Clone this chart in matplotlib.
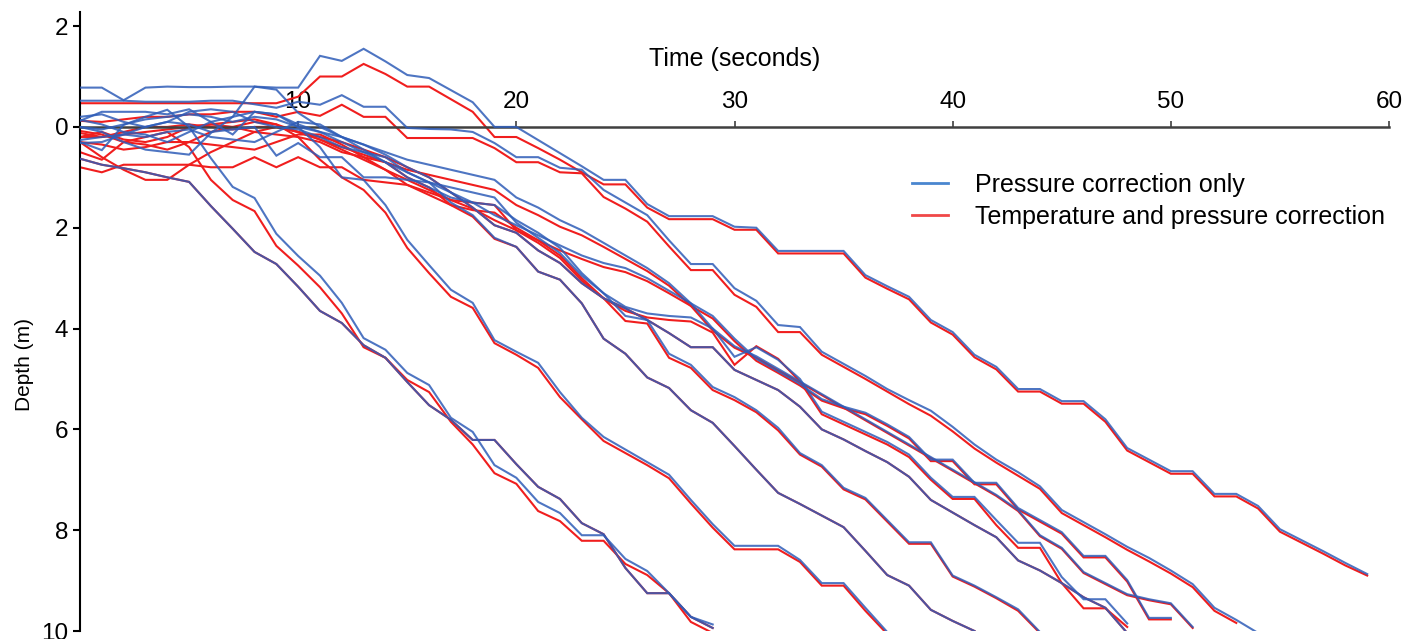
import numpy as np
import matplotlib
matplotlib.use("Agg")
import matplotlib.pyplot as plt
from matplotlib.ticker import FuncFormatter
from matplotlib.lines import Line2D

# ---- data: depth (m) sampled every second from t = 0 s ----
A_blue = [0.63,0.75,0.82,0.9,1.0,1.09,1.57,2.02,2.48,2.72,3.17,3.65,3.89,4.33,4.58,5.06,5.52,5.81,6.21,6.21,
          6.69,7.14,7.38,7.86,8.08,8.75,9.25,9.25,9.72,9.94]
A_red = [0.63,0.75,0.82,0.9,1.0,1.09,1.57,2.02,2.48,2.72,3.17,3.65,3.89,4.33,4.58,5.06,5.52,5.81,6.21,6.21,
         6.69,7.14,7.38,7.86,8.08,8.75,9.25,9.25,9.72,9.94]

B_blue = [0.3,0.46,-0.04,-0.2,-0.34,0.0,0.62,1.19,1.41,2.12,2.56,2.95,3.49,4.19,4.42,4.88,5.12,5.77,6.05,6.71,
          6.96,7.44,7.66,8.1,8.1,8.57,8.81,9.25,9.72,9.87]
B_red = [0.5,0.65,0.3,0.2,0.1,0.4,1.05,1.45,1.67,2.36,2.75,3.18,3.7,4.37,4.58,5.02,5.26,5.85,6.3,6.87,
         7.08,7.62,7.82,8.21,8.21,8.67,8.89,9.25,9.82,10.04]

C_blue = [-0.14,-0.05,0.1,0.15,0.3,0.1,-0.1,-0.2,-0.3,-0.25,0.0,0.4,1.0,1.05,1.55,2.24,2.74,3.23,3.49,4.23,
          4.46,4.68,5.26,5.77,6.15,6.4,6.65,6.9,7.4,7.88,8.31,8.31,8.31,8.59,9.05,9.05,9.54,10.02]
C_red = [0.08,0.15,0.3,0.35,0.45,0.3,0.1,0.0,-0.1,-0.05,0.2,0.65,1.0,1.25,1.7,2.4,2.9,3.37,3.59,4.29,
         4.52,4.78,5.36,5.8,6.23,6.47,6.71,6.97,7.47,7.95,8.38,8.38,8.38,8.63,9.1,9.1,9.6,10.06]

D_blue = [-0.78,-0.78,-0.53,-0.78,-0.8,-0.79,-0.79,-0.8,-0.8,-0.78,-0.78,
          -1.41,-1.31,-1.55,-1.3,-1.03,-0.97,-0.73,-0.49,0.0,0.0,
          0.26,0.52,0.78,1.05,1.05,1.53,1.77,1.77,1.77,1.98,
          2.0,2.46,2.46,2.46,2.46,2.94,3.16,3.37,3.83,4.07,
          4.52,4.76,5.2,5.2,5.44,5.44,5.8,6.37,6.6,6.83,
          6.83,7.28,7.28,7.52,7.98,8.2,8.42,8.65,8.87]
D_red = [-0.47,-0.47,-0.47,-0.47,-0.47,-0.47,-0.47,-0.47,-0.47,-0.47,-0.6,
         -1.0,-1.0,-1.25,-1.05,-0.8,-0.8,-0.55,-0.3,0.2,0.2,
         0.42,0.65,0.9,1.14,1.14,1.6,1.83,1.83,1.83,2.04,
         2.04,2.51,2.51,2.51,2.51,2.99,3.21,3.42,3.88,4.12,
         4.57,4.81,5.25,5.25,5.49,5.49,5.85,6.42,6.65,6.88,
         6.88,7.33,7.33,7.57,8.03,8.25,8.47,8.7,8.9]

E_blue = [-0.52,-0.52,-0.52,-0.5,-0.5,-0.5,-0.52,-0.52,-0.45,-0.38,-0.5,-0.44,-0.63,-0.4,-0.4,0.02,0.04,0.05,0.1,0.32,
          0.6,0.6,0.81,0.85,1.25,1.5,1.75,2.25,2.72,2.72,3.2,3.45,3.93,3.97,4.46,4.7,4.94,5.2,5.42,5.63,
          5.95,6.3,6.6,6.85,7.13,7.6,7.84,8.08,8.33,8.55,8.8,9.07,9.54,9.78,10.04,10.04]
E_red = [-0.12,-0.1,-0.15,-0.2,-0.2,-0.25,-0.25,-0.3,-0.3,-0.2,-0.3,-0.22,-0.44,-0.2,-0.2,0.22,0.22,0.22,0.22,0.42,
         0.7,0.7,0.9,0.92,1.39,1.62,1.88,2.37,2.84,2.84,3.33,3.57,4.07,4.07,4.52,4.76,5.0,5.25,5.5,5.73,
         6.04,6.38,6.66,6.92,7.18,7.66,7.9,8.14,8.39,8.62,8.86,9.13,9.6,9.84]

F_blue = [-0.2,-0.25,-0.1,0.0,-0.1,-0.3,-0.35,-0.3,-0.1,0.0,0.05,0.2,0.4,0.5,0.6,0.9,1.1,1.5,1.75,2.2,
          2.38,2.87,3.03,3.5,4.2,4.5,4.97,5.18,5.62,5.87,6.33,6.8,7.26,7.48,7.71,7.94,8.41,8.89,9.1,9.58,
          9.8,10.0]
F_red = [0.2,0.1,0.25,0.3,0.2,0.0,-0.05,0.0,0.1,0.15,0.2,0.3,0.5,0.6,0.7,1.0,1.2,1.55,1.78,2.22,
         2.38,2.87,3.03,3.5,4.2,4.5,4.97,5.18,5.62,5.87,6.33,6.8,7.26,7.48,7.71,7.94,8.41,8.89,9.1,9.58,
         9.8,10.0]

G_blue = [0.26,0.2,0.15,0.0,-0.1,-0.05,0.1,0.05,0.0,0.57,0.32,0.6,0.6,1.0,1.0,
          1.05,1.1,1.2,1.3,1.4,1.9,2.2,2.5,2.95,3.3,3.75,3.83,4.5,4.72,5.16,
          5.36,5.62,5.97,6.47,6.71,7.16,7.36,7.8,8.24,8.24,8.9,9.1,9.33,9.57,10.02]
G_red = [0.8,0.9,0.75,0.75,0.75,0.75,0.8,0.8,0.6,0.8,0.6,0.8,0.8,1.05,1.1,
         1.15,1.3,1.45,1.5,1.55,2.05,2.3,2.6,3.05,3.4,3.85,3.9,4.58,4.78,5.22,
         5.42,5.66,6.02,6.5,6.74,7.19,7.39,7.83,8.27,8.27,8.92,9.12,9.35,9.6,10.04]

H1_blue = [0.32,0.3,0.15,0.2,0.1,0.05,0.2,0.25,0.3,0.1,-0.1,-0.05,0.2,0.45,0.7,
           1.0,1.2,1.4,1.5,1.55,1.85,2.1,2.4,2.9,3.3,3.57,3.7,3.75,3.78,4.0,
           4.56,4.37,4.62,5.0,5.65,5.85,6.05,6.25,6.5,6.96,7.34,7.34,7.8,8.25,8.25,
           8.93,9.37,9.37,9.85]
H1_red = [0.3,0.35,0.45,0.4,0.3,0.3,0.35,0.4,0.45,0.3,0.15,0.15,0.35,0.6,0.85,
          1.15,1.35,1.55,1.65,1.7,2.0,2.25,2.55,3.0,3.4,3.65,3.78,3.83,3.86,4.08,
          4.72,4.35,4.6,5.05,5.7,5.9,6.1,6.3,6.55,7.0,7.38,7.38,7.9,8.35,8.35,
          9.05,9.55,9.55,9.92]

H2_blue = [0.0,0.05,-0.05,-0.15,-0.2,-0.25,-0.2,-0.1,-0.2,-0.15,0.0,0.1,0.2,0.35,0.55,
           0.8,1.0,1.3,1.6,1.95,2.1,2.45,2.7,3.1,3.4,3.6,3.83,4.09,4.37,4.37,
           4.82,5.02,5.22,5.55,6.0,6.2,6.43,6.65,6.94,7.4,7.65,7.9,8.14,8.6,8.8,
           9.05,9.33,9.54,10.04]
H2_red = [0.12,0.2,0.1,0.0,0.0,-0.05,0.0,0.05,0.0,0.0,0.1,0.2,0.3,0.45,0.6,
          0.8,1.0,1.3,1.6,1.95,2.1,2.45,2.7,3.1,3.4,3.6,3.83,4.09,4.37,4.37,
          4.82,5.02,5.22,5.55,6.0,6.2,6.43,6.65,6.94,7.4,7.65,7.9,8.14,8.6,8.8,
          9.05,9.33,9.54,10.04]

I_blue = [-0.12,-0.3,-0.3,-0.3,-0.25,-0.35,-0.1,0.15,-0.3,-0.25,-0.05,0.1,0.3,0.5,0.7,
          0.9,1.1,1.3,1.5,1.75,1.95,2.15,2.35,2.55,2.7,2.8,3.0,3.25,3.5,3.75,
          4.2,4.6,4.85,5.1,5.4,5.55,5.67,5.9,6.15,6.6,6.6,7.06,7.06,7.56,7.8,
          8.04,8.51,8.51,8.99,9.74,9.74]
I_red = [0.3,0.6,0.85,1.05,1.05,0.75,0.5,0.3,0.1,0.0,0.1,0.25,0.45,0.65,0.85,
         1.05,1.25,1.45,1.62,1.85,2.05,2.25,2.45,2.62,2.78,2.88,3.06,3.3,3.55,3.8,
         4.25,4.64,4.88,5.13,5.43,5.58,5.7,5.93,6.18,6.63,6.63,7.09,7.09,7.59,7.83,
         8.07,8.54,8.54,9.02,9.77,9.77]

J_blue = [0.0,0.1,0.3,0.45,0.5,0.55,0.12,-0.2,-0.8,-0.74,-0.28,0.0,0.2,0.35,0.5,
          0.65,0.75,0.85,0.95,1.05,1.4,1.6,1.85,2.05,2.3,2.55,2.8,3.1,3.5,4.0,
          4.35,4.55,4.8,5.05,5.3,5.55,5.8,6.05,6.3,6.55,6.8,7.05,7.3,7.6,8.1,
          8.35,8.83,9.05,9.27,9.37,9.45,9.92]
J_red = [0.2,0.2,0.15,0.1,0.05,0.0,-0.05,-0.1,-0.15,-0.05,0.1,0.25,0.4,0.55,0.7,
         0.85,0.95,1.05,1.15,1.25,1.55,1.75,1.98,2.15,2.38,2.62,2.86,3.15,3.55,4.04,
         4.38,4.58,4.83,5.07,5.32,5.57,5.82,6.07,6.32,6.57,6.82,7.07,7.32,7.62,8.12,
         8.37,8.85,9.07,9.29,9.39,9.47,9.94]

blue_series = [A_blue, B_blue, C_blue, D_blue, E_blue, F_blue, G_blue, H1_blue, H2_blue, I_blue, J_blue]
red_series = [A_red, B_red, C_red, D_red, E_red, F_red, G_red, H1_red, H2_red, I_red, J_red]

label_blue = "Pressure correction only"
label_red = "Temperature and pressure correction"
x_ticks = [10, 20, 30, 40, 50, 60]
y_ticks = [-2, 0, 2, 4, 6, 8, 10]

# ---- drawing ----
plt.rcParams['font.family'] = ['Liberation Sans', 'DejaVu Sans']
fig = plt.figure(figsize=(14.21, 6.39), dpi=100)
ax = fig.add_axes([80/1421, 1-631/639, (1389-80)/1421, (631-12)/639])

RED = '#F01E1E'
BLUE = '#2F5DB8'
for s in red_series:
    ax.plot(np.arange(len(s)), s, color=RED, lw=1.5, solid_joinstyle='miter', zorder=2)
for s in blue_series:
    ax.plot(np.arange(len(s)), s, color=BLUE, lw=1.5, alpha=0.85, solid_joinstyle='miter', zorder=3)

ax.set_xlim(0, 60)
ax.set_ylim(10, -2.28)

for side in ['right', 'bottom']:
    ax.spines[side].set_visible(False)
ax.spines['top'].set_position(('data', 0))
ax.spines['top'].set_color('#404040')
ax.spines['top'].set_linewidth(1.8)
ax.spines['left'].set_color('black')
ax.spines['left'].set_linewidth(1.5)

ax.xaxis.set_ticks_position('top')
ax.set_xticks(x_ticks)
ax.set_xticklabels([str(v) for v in x_ticks])
ax.tick_params(axis='x', direction='out', length=4, width=1.2, color='#404040',
               labelsize=17.5, pad=6)
ax.set_yticks(y_ticks)
ax.yaxis.set_major_formatter(FuncFormatter(lambda v, p: f"{abs(v):g}"))
ax.tick_params(axis='y', direction='out', length=5, width=1.5, labelsize=17.5, pad=3.5)

ax.xaxis.set_label_position('top')
ax.set_xlabel('Time (seconds)', fontsize=18, labelpad=18)
ax.set_ylabel('Depth (m)', fontsize=15)
ax.yaxis.set_label_coords(-0.035, 0.43)

handles = [Line2D([], [], color='#4A86CF', lw=2), Line2D([], [], color='#F04848', lw=2)]
fig.legend(handles, [label_blue, label_red], loc='upper left',
           bbox_to_anchor=(912/1421, 1-173/639), frameon=False, fontsize=18,
           handlelength=1.44, handletextpad=1.08, labelspacing=0.31,
           borderpad=0, borderaxespad=0)

fig.savefig('out.png', dpi=100)
